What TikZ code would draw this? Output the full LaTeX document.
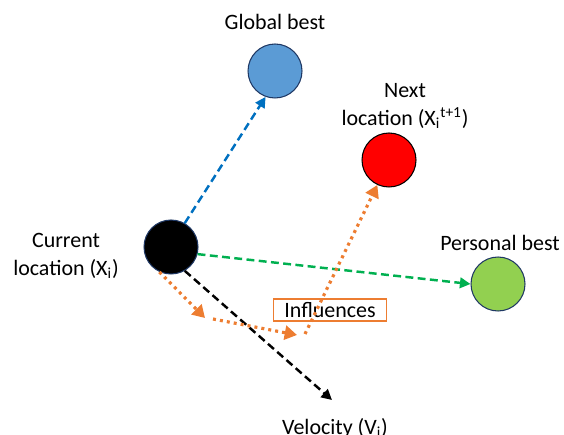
\documentclass[tikz,border=0pt]{standalone}
\usepackage{fontspec}
\setmainfont{Carlito}
\usetikzlibrary{arrows.meta}

\definecolor{gbfill}{RGB}{91,155,213}
\definecolor{gbline}{RGB}{0,112,192}
\definecolor{pbfill}{RGB}{146,208,80}
\definecolor{pbline}{RGB}{0,176,80}
\definecolor{inforange}{RGB}{237,125,49}
\definecolor{rimblue}{RGB}{31,56,100}

\begin{document}
\begin{tikzpicture}[x=0.02cm,y=-0.02cm]
\tikzset{particle/.style = {circle, draw=rimblue, line width=0.6pt, minimum size=1.08cm, inner sep=0pt}}
\tikzset{lbl/.style = {align=center, font=\fontsize{12.5}{15.5}\selectfont}}
\tikzset{move/.style = {dashed, dash pattern=on 4.5pt off 2.5pt, line width=1.4pt, -{Triangle[length=6pt,width=6pt]}}}
\tikzset{pull/.style = {inforange, line width=1.8pt, dash pattern=on 1.7pt off 2.3pt, -{Triangle[length=7pt,width=8pt]}}}
\useasboundingbox (0,0) rectangle (564,435);

    \node[particle, fill=black] (cur) at (171,247) {};
    \node[particle, fill=gbfill] (gbest) at (275,71) {};
    \node[particle, fill=red, draw=black] (next) at (389,160) {};
    \node[particle, fill=pbfill] (pbest) at (498,284) {};

    \node[lbl] (gbestlbl) at (275,22) {Global best};
    \node[lbl] (nextlbl) at (405,106) {Next\\location (X\textsubscript{i}\textsuperscript{t+1})};
    \node[lbl] (curlbl) at (66,256) {Current\\location (X\textsubscript{i})};
    \node[lbl] (pbestlbl) at (500,243) {Personal best};
    \node[lbl] (vellbl) at (335,428) {Velocity (V\textsubscript{i})};
    \node[lbl, draw=inforange, line width=0.8pt, inner sep=2pt, minimum width=2.26cm] (infl) at (330,310) {Influences};

    \coordinate (velend) at (332,400);
    \coordinate (p1) at (205,318);
    \coordinate (p2) at (213,319);
    \coordinate (p3) at (297,335);
    \coordinate (p4) at (305,334);

\draw[move, gbline] (cur.60) -- (gbest.-110);
\draw[move, pbline] (cur.-15) -- (pbest.west);
\draw[move, black] (cur.-60) -- (velend);

    \draw[pull] (cur.-115) -- (p1);
    \draw[pull] (p2) -- (p3);
    \draw[pull] (p4) -- (next.-115);
\end{tikzpicture}
\end{document}
